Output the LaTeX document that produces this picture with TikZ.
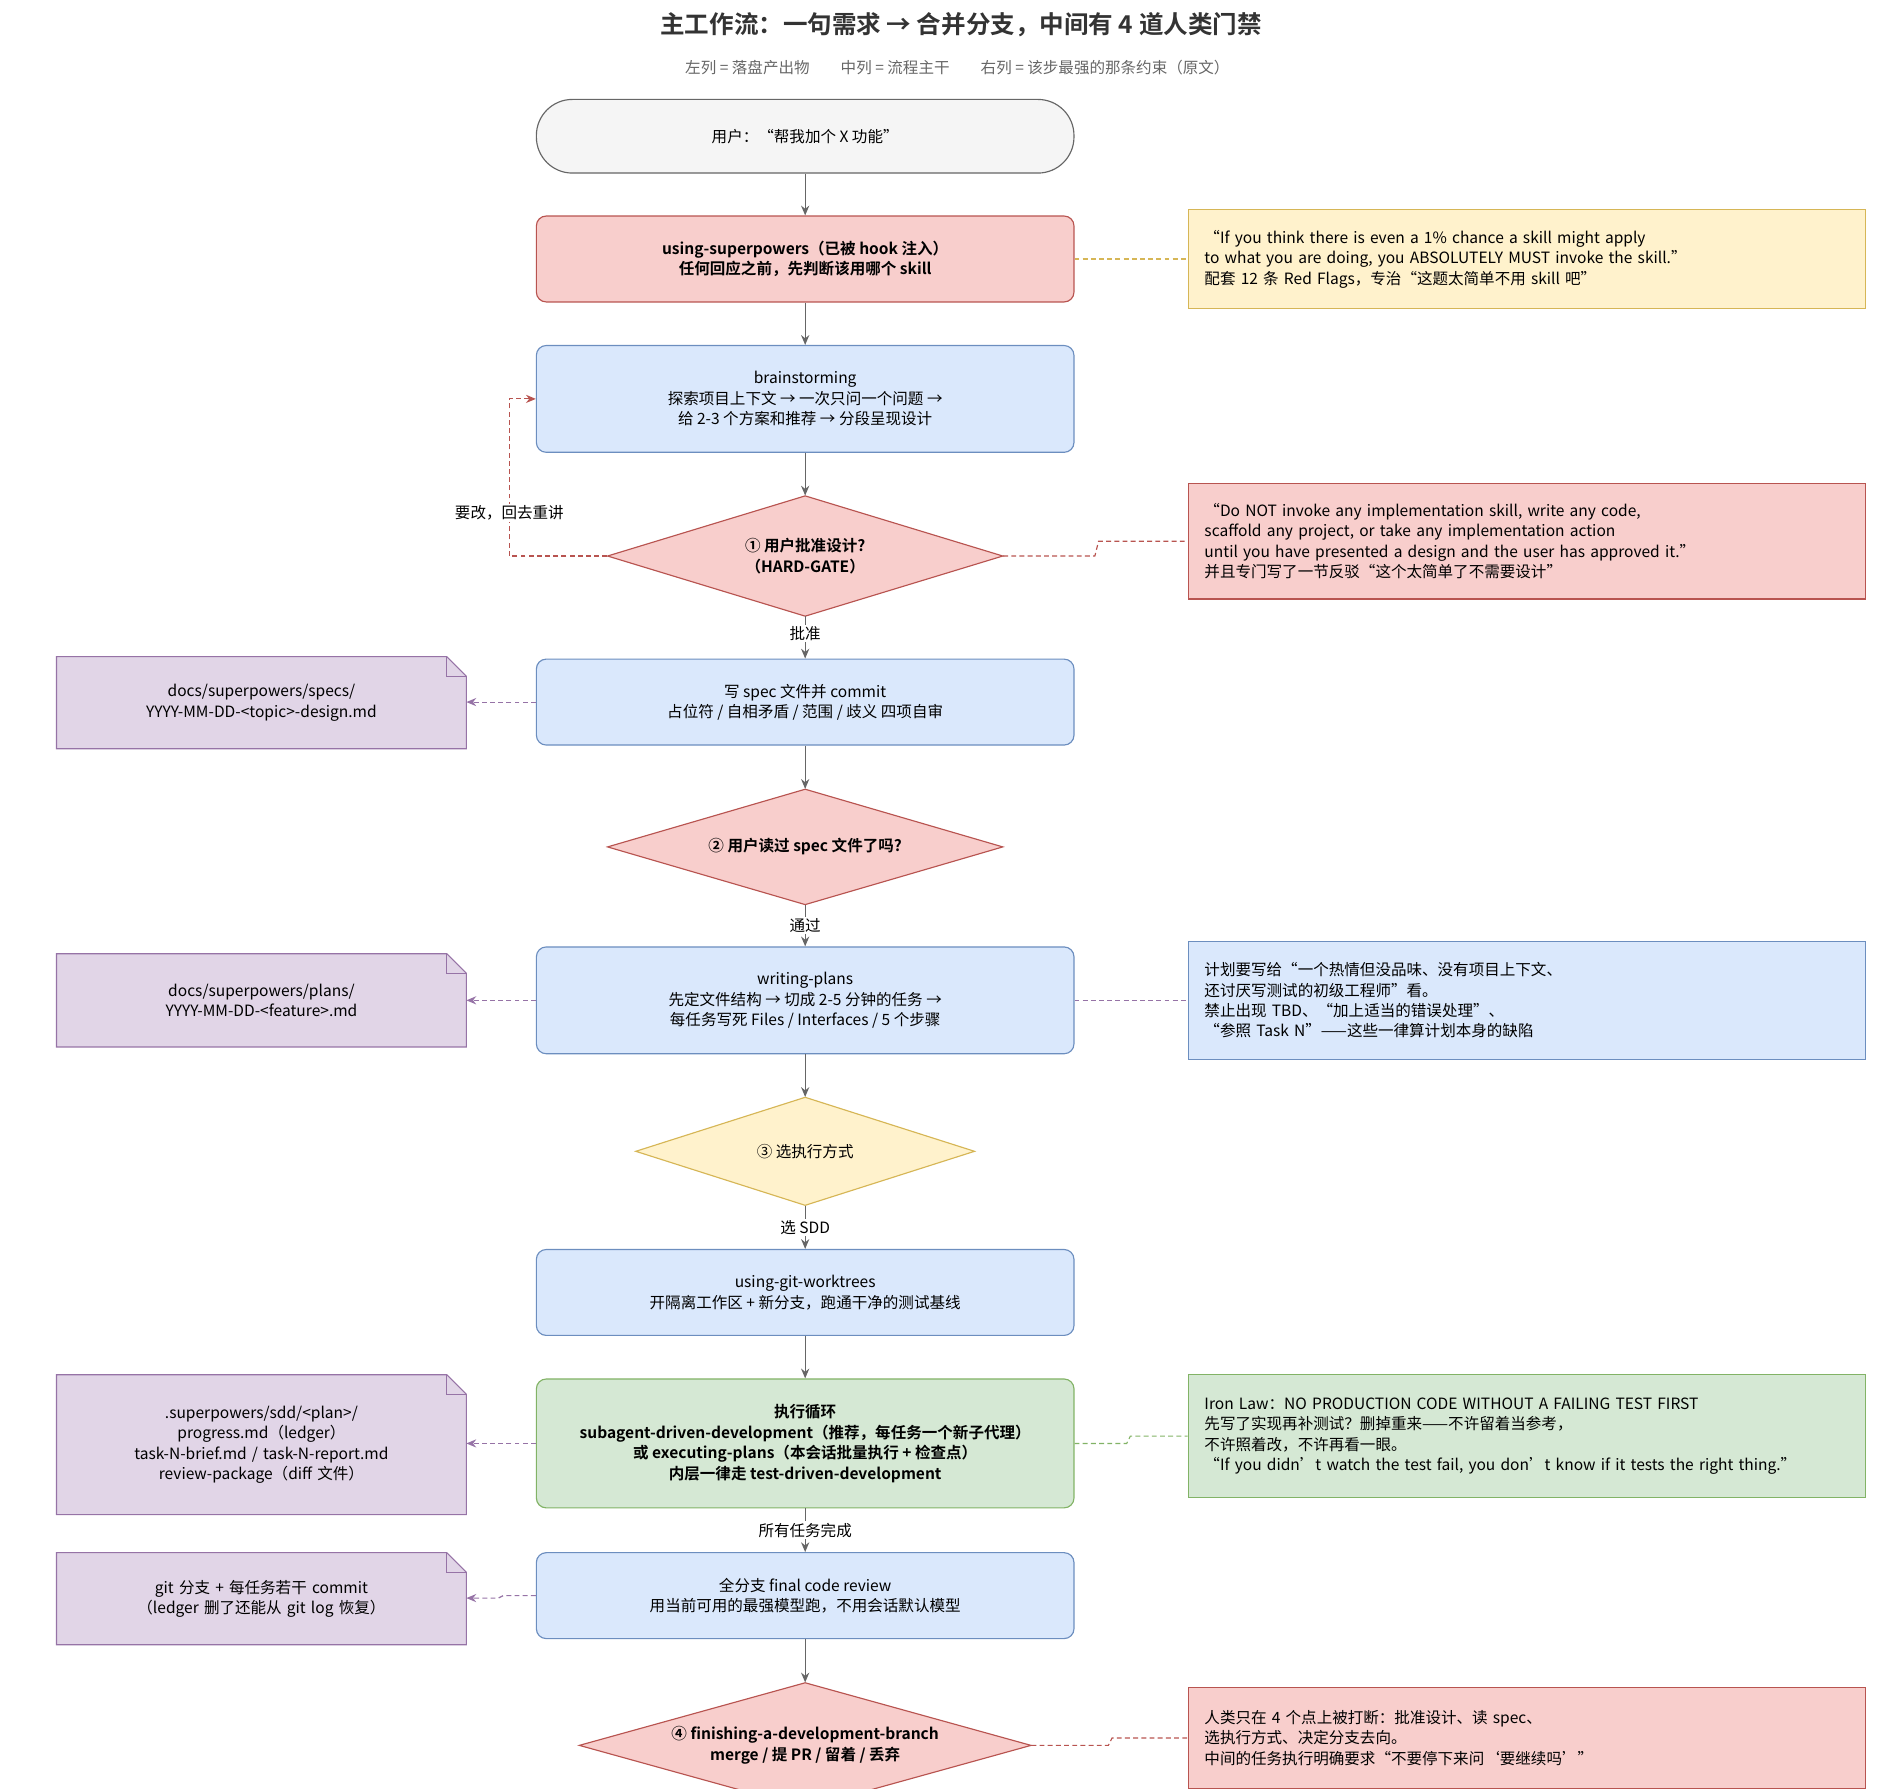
\documentclass[tikz,border=0pt]{standalone}
\usepackage{fontspec}
\setmainfont{Noto Sans CJK SC}[BoldFont={Noto Sans CJK SC Bold}]
\usetikzlibrary{shapes.geometric,arrows.meta}
\definecolor{redF}{HTML}{F8CECC}\definecolor{redD}{HTML}{B85450}
\definecolor{bluF}{HTML}{DAE8FC}\definecolor{bluD}{HTML}{6C8EBF}
\definecolor{yelF}{HTML}{FFF2CC}\definecolor{yelD}{HTML}{D6B656}
\definecolor{grnF}{HTML}{D5E8D4}\definecolor{grnD}{HTML}{82B366}
\definecolor{purF}{HTML}{E1D5E7}\definecolor{purD}{HTML}{9673A6}
\definecolor{gryF}{HTML}{F5F5F5}\definecolor{gryD}{HTML}{666666}
\begin{document}
\begin{tikzpicture}[x=0.75pt,y=-0.75pt,
  every node/.style={font=\fontsize{9.5}{12.5}\selectfont},
  box/.style={draw,rounded corners=6pt,minimum width=328.5pt,align=center,line width=0.7pt},
  red/.style={fill=redF,draw=redD},blu/.style={fill=bluF,draw=bluD},
  yel/.style={fill=yelF,draw=yelD},grn/.style={fill=grnF,draw=grnD},
  note/.style={draw,line width=0.7pt,text width=394pt,minimum width=414pt,align=left,inner xsep=10pt},
  doc/.style={draw=none,text width=240pt,align=center},
  flow/.style={draw=gryD,line width=0.8pt,-{Stealth[length=6pt,width=5pt]}},
  lnk/.style={dashed,line width=0.7pt,dash pattern=on 3pt off 2pt},
  lbl/.style={fill=white,inner sep=1pt}]
\useasboundingbox (0,0) rectangle (1548,1457);
% diamond macro: name, cx, cy, half-w, half-h, style, text
\newcommand\mydia[7]{\draw[#6,line width=0.7pt] (#2-#4,#3) -- (#2,#3-#5) -- (#2+#4,#3) -- (#2,#3+#5) -- cycle;
  \node[draw=none,align=center,minimum width={1.5pt*#4},minimum height={1.5pt*#5},inner sep=0pt,font=\fontsize{9.5}{12.5}\selectfont\bfseries] (#1) at (#2,#3) {#7};}

\node[font=\fontsize{15}{18}\selectfont\bfseries,text=black!80] (title) at (783,20) {主工作流：一句需求 → 合并分支，中间有 4 道人类门禁};
\node[text=black!60] (sub) at (780,55) {左列 = 落盘产出物\qquad 中列 = 流程主干\qquad 右列 = 该步最强的那条约束（原文）};

\node[box,fill=gryF,draw=gryD,rounded corners=22pt,minimum height=45pt] (user) at (656,111) {用户：“帮我加个 X 功能”};
\node[box,red,minimum height=52.5pt,font=\fontsize{9.5}{12.5}\selectfont\bfseries] (usp) at (656,211) {using-superpowers（已被 hook 注入）\\任何回应之前，先判断该用哪个 skill};
\node[box,blu,minimum height=65.25pt] (brain) at (656,325) {brainstorming\\探索项目上下文 → 一次只问一个问题 →\\给 2-3 个方案和推荐 → 分段呈现设计};
\mydia{d1}{656}{453}{161}{49}{fill=redF,draw=redD}{① 用户批准设计?\\（HARD-GATE）}
\node[box,blu,minimum height=52.5pt] (spec) at (656,572) {写 spec 文件并 commit\\占位符 / 自相矛盾 / 范围 / 歧义 四项自审};
\mydia{d2}{656}{690}{161}{47}{fill=redF,draw=redD}{② 用户读过 spec 文件了吗?}
\node[box,blu,minimum height=65.25pt] (plans) at (656,815) {writing-plans\\先定文件结构 → 切成 2-5 分钟的任务 →\\每任务写死 Files / Interfaces / 5 个步骤};
\mydia{d3}{656}{938}{138}{44}{fill=yelF,draw=yelD}{\mdseries ③ 选执行方式}
\node[box,blu,minimum height=52.5pt] (wt) at (656,1053) {using-git-worktrees\\开隔离工作区 + 新分支，跑通干净的测试基线};
\node[box,grn,minimum height=78.75pt,font=\fontsize{9.5}{12.5}\selectfont\bfseries] (exec) at (656,1176) {执行循环\\subagent-driven-development（推荐，每任务一个新子代理）\\或 executing-plans（本会话批量执行 + 检查点）\\内层一律走 test-driven-development};
\node[box,blu,minimum height=52.5pt] (rev) at (656,1300) {全分支 final code review\\用当前可用的最强模型跑，不用会话默认模型};
\mydia{d4}{656}{1422}{184}{51}{fill=redF,draw=redD}{④ finishing-a-development-branch\\merge / 提 PR / 留着 / 丢弃}

% notes
\node[note,yel,minimum height=60pt] (n1) at (1244,211) {“If you think there is even a 1\% chance a skill might apply\\to what you are doing, you ABSOLUTELY MUST invoke the skill.”\\配套 12 条 Red Flags，专治“这题太简单不用 skill 吧”};
\node[note,red,minimum height=70.5pt] (n2) at (1244,441) {“Do NOT invoke any implementation skill, write any code,\\scaffold any project, or take any implementation action\\until you have presented a design and the user has approved it.”\\并且专门写了一节反驳“这个太简单了不需要设计”};
\node[note,blu,minimum height=72pt] (n3) at (1244,815) {计划要写给“一个热情但没品味、没有项目上下文、\\还讨厌写测试的初级工程师”看。\\禁止出现 TBD、“加上适当的错误处理”、\\“参照 Task N”——这些一律算计划本身的缺陷};
\node[note,grn,minimum height=75pt] (n4) at (1244,1170) {Iron Law：NO PRODUCTION CODE WITHOUT A FAILING TEST FIRST\\先写了实现再补测试？删掉重来——不许留着当参考，\\不许照着改，不许再看一眼。\\“If you didn't watch the test fail, you don't know if it tests the right thing.”};
\node[note,red,minimum height=61.5pt] (n5) at (1244,1416) {人类只在 4 个点上被打断：批准设计、读 spec、\\选执行方式、决定分支去向。\\中间的任务执行明确要求“不要停下来问‘要继续吗’”};

% docs
\newcommand\docshape[4]{\draw[fill=purF,draw=purD,line width=0.7pt] (46,#1) -- (364,#1) -- (380,#1+16) -- (380,#2) -- (46,#2) -- cycle;
  \draw[draw=purD,line width=0.7pt] (364,#1) -- (364,#1+16) -- (380,#1+16);
  \node[doc] (#3) at (213,{(#1+#2)/2}) {#4};}
\docshape{535}{610}{doc1}{docs/superpowers/specs/\\YYYY-MM-DD-<topic>-design.md}
\docshape{777}{853}{doc2}{docs/superpowers/plans/\\YYYY-MM-DD-<feature>.md}
\docshape{1120}{1234}{doc3}{.superpowers/sdd/<plan>/\\progress.md（ledger）\\task-N-brief.md / task-N-report.md\\review-package（diff 文件）}
\docshape{1265}{1340}{doc4}{git 分支 + 每任务若干 commit\\（ledger 删了还能从 git log 恢复）}

% flow
\draw[flow] (user) -- (usp);
\draw[flow] (usp) -- (brain);
\draw[flow] (brain) -- (d1);
\draw[flow] (d1) -- node[lbl,pos=0.4]{批准} (spec);
\draw[flow] (spec) -- (d2);
\draw[flow] (d2) -- node[lbl,pos=0.5]{通过} (plans);
\draw[flow] (plans) -- (d3);
\draw[flow] (d3) -- node[lbl,pos=0.5]{选 SDD} (wt);
\draw[flow] (wt) -- (exec);
\draw[flow] (exec) -- node[lbl,pos=0.5]{所有任务完成} (rev);
\draw[flow] (rev) -- (d4);
\draw[lnk,draw=redD,-{Stealth[length=6pt,width=5pt]}] (d1.west) -- (415,453) -- (415,325) -- (brain.west);
\node[lbl] (loop) at (415,418) {要改，回去重讲};

% links to notes
\draw[lnk,draw=yelD] (usp.east) -- (n1.west);
\draw[lnk,draw=redD] (d1.east) -- (892,453) -- (895,441) -- (n2.west);
\draw[lnk,draw=purD] (plans.east) -- (n3.west);
\draw[lnk,draw=grnD] (exec.east) -- (918,1176) -- (921,1170) -- (n4.west);
\draw[lnk,draw=redD] (d4.east) -- (903,1422) -- (906,1416) -- (n5.west);
% links to docs
\draw[lnk,draw=purD,-{Stealth[length=6pt,width=5pt]}] (spec.west) -- (380,572);
\draw[lnk,draw=purD,-{Stealth[length=6pt,width=5pt]}] (plans.west) -- (380,815);
\draw[lnk,draw=purD,-{Stealth[length=6pt,width=5pt]}] (exec.west) -- (380,1176);
\draw[lnk,draw=purD,-{Stealth[length=6pt,width=5pt]}] (rev.west) -- (410,1300) -- (406,1302) -- (380,1302);
\end{tikzpicture}
\end{document}
